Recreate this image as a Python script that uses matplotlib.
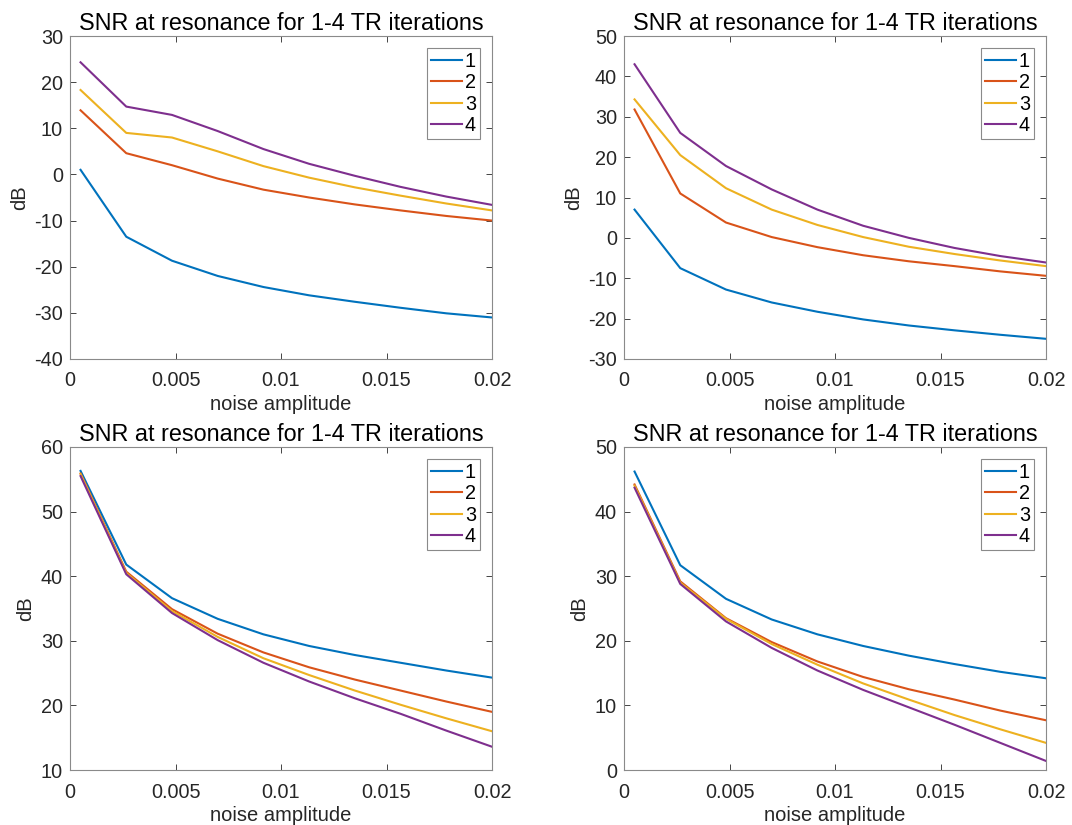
import numpy as np
import matplotlib.pyplot as plt

# noise amplitudes used in the sweep
noise_amp = np.linspace(0.0005, 0.02, 10)

# SNR (dB) per case, one list per number of TR iterations
tl_snr = {
    '1': [1.0, -13.5, -18.7, -22.0, -24.4, -26.2, -27.6, -28.9, -30.1, -31.0],
    '2': [13.9, 4.6, 2.0, -0.9, -3.3, -5.0, -6.5, -7.8, -9.0, -10.0],
    '3': [18.3, 9.0, 8.0, 5.0, 1.8, -0.7, -2.8, -4.6, -6.3, -7.8],
    '4': [24.3, 14.7, 12.9, 9.4, 5.5, 2.3, -0.3, -2.7, -4.8, -6.6],
}
tr_snr = {
    '1': [7.0, -7.5, -12.8, -16.0, -18.3, -20.2, -21.7, -22.9, -24.0, -25.0],
    '2': [31.8, 11.0, 3.8, 0.2, -2.3, -4.3, -5.8, -7.0, -8.3, -9.4],
    '3': [34.3, 20.5, 12.3, 7.0, 3.2, 0.2, -2.2, -4.0, -5.6, -7.0],
    '4': [43.0, 26.0, 17.8, 12.0, 7.0, 3.0, 0.0, -2.5, -4.5, -6.1],
}
bl_snr = {
    '1': [56.3, 41.8, 36.6, 33.4, 31.0, 29.2, 27.8, 26.6, 25.4, 24.3],
    '2': [55.9, 40.7, 34.9, 31.1, 28.2, 25.9, 24.0, 22.3, 20.6, 19.0],
    '3': [55.8, 40.5, 34.6, 30.6, 27.3, 24.7, 22.3, 20.1, 18.0, 16.0],
    '4': [55.5, 40.3, 34.3, 30.1, 26.6, 23.7, 21.1, 18.7, 16.1, 13.6],
}
br_snr = {
    '1': [46.2, 31.7, 26.5, 23.3, 21.0, 19.2, 17.7, 16.4, 15.2, 14.2],
    '2': [44.2, 29.2, 23.5, 19.8, 16.8, 14.4, 12.5, 10.9, 9.2, 7.7],
    '3': [44.0, 29.0, 23.4, 19.5, 16.3, 13.4, 10.9, 8.5, 6.3, 4.2],
    '4': [43.7, 28.8, 23.0, 18.9, 15.4, 12.4, 9.7, 7.0, 4.2, 1.4],
}

tl_ylim = (-40, 30)
tr_ylim = (-30, 50)
bl_ylim = (10, 60)
br_ylim = (0, 50)

# MATLAB default line colours
colors = ['#0072BD', '#D95319', '#EDB120', '#7E2F8E']

plt.rcParams['font.family'] = ['Liberation Sans', 'DejaVu Sans']
plt.rcParams['axes.unicode_minus'] = False


def draw_panel(ax, snr, ylim):
    for (label, vals), c in zip(snr.items(), colors):
        ax.plot(noise_amp, vals, color=c, linewidth=1.5, label=label)
    ax.set_xlim(0, 0.02)
    ax.set_ylim(*ylim)
    ax.set_xticks([0, 0.005, 0.01, 0.015, 0.02])
    ax.set_xticklabels(['0', '0.005', '0.01', '0.015', '0.02'])
    ax.set_title('SNR at resonance for 1-4 TR iterations', fontsize=16.8,
                 color='#000000', pad=4)
    ax.set_xlabel('noise amplitude', fontsize=14.5, color='#262626', labelpad=3)
    ax.set_ylabel('dB', fontsize=14.5, color='#262626', labelpad=4)
    ax.tick_params(direction='in', top=True, right=True, length=4,
                   width=0.6, colors='#262626', labelsize=14.3)
    ax.tick_params(axis='x', pad=9)
    ax.tick_params(axis='y', pad=5)
    for sp in ax.spines.values():
        sp.set_color('#8a8a8a')
        sp.set_linewidth(0.8)
    leg = ax.legend(loc='upper right', fontsize=14.3, handlelength=1.55,
                    handletextpad=0.15, borderpad=0.2, labelspacing=0.12,
                    fancybox=False, framealpha=1, borderaxespad=0.6)
    leg.get_frame().set_edgecolor('#8a8a8a')
    leg.get_frame().set_linewidth(0.8)


fig = plt.figure(figsize=(10.72, 8.25), dpi=100)
W, H = 1072, 825
aw, ah = 422, 323
boxes = [
    (70, 36, tl_snr, tl_ylim),
    (624, 36, tr_snr, tr_ylim),
    (70, 447, bl_snr, bl_ylim),
    (624, 447, br_snr, br_ylim),
]
for left, top, snr, ylim in boxes:
    ax = fig.add_axes([left / W, 1 - (top + ah) / H, aw / W, ah / H])
    draw_panel(ax, snr, ylim)

fig.savefig('out.png', dpi=100)
